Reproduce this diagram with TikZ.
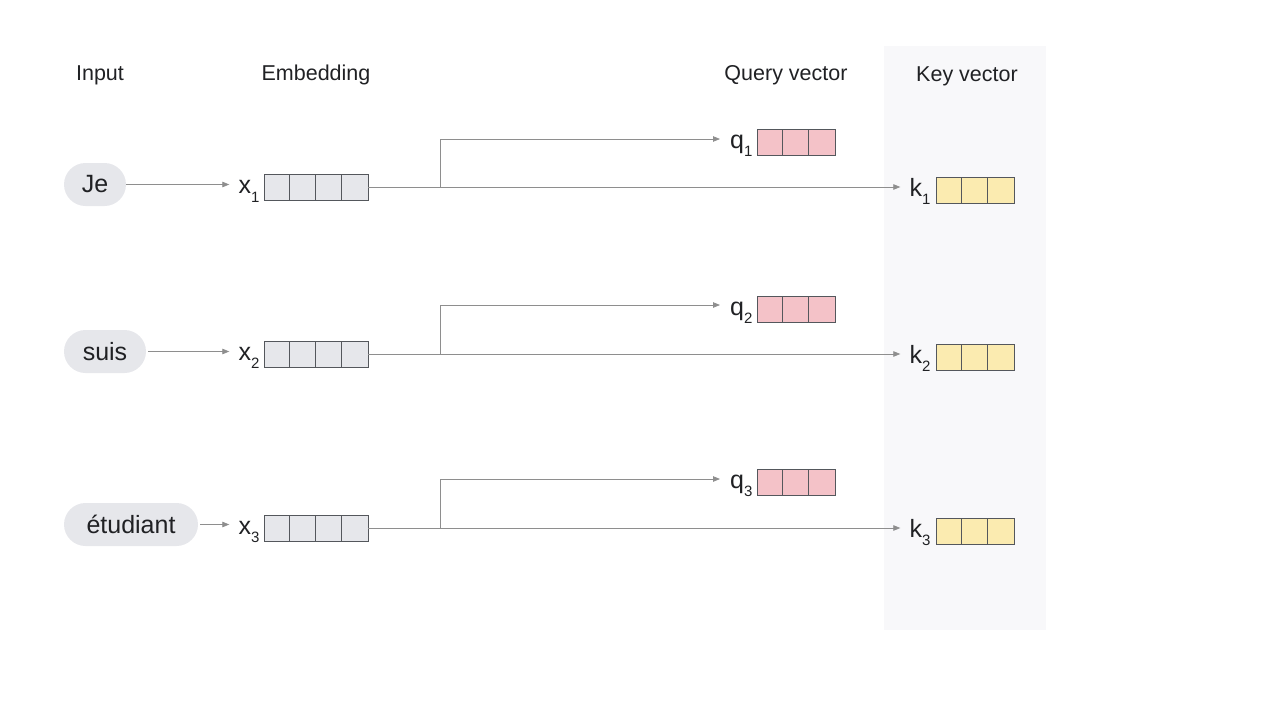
\documentclass[tikz,border=0pt]{standalone}
\usepackage{fontspec}
\setmainfont{Liberation Sans}
\usetikzlibrary{arrows.meta}
\definecolor{ink}{HTML}{202124}
\definecolor{pillgray}{HTML}{E6E7EB}
\definecolor{embfill}{HTML}{E6E7EB}
\definecolor{qfill}{HTML}{F4C2C8}
\definecolor{kfill}{HTML}{FBEBB0}
\definecolor{boxline}{HTML}{54575C}
\definecolor{arrowgray}{HTML}{8E8E8E}
\definecolor{panel}{HTML}{F8F8FA}
\newcommand\subidx[1]{\raisebox{-8.5pt}{\fontsize{15}{15}\selectfont #1}}
\begin{document}
\begin{tikzpicture}[x=1pt,y=-1pt,
  tok/.style={fill=pillgray, rounded corners=21.5pt, minimum height=43pt, inner sep=0pt, text=ink, font=\fontsize{25}{25}\selectfont},
  head/.style={text=ink, font=\fontsize{21.5}{21.5}\selectfont, anchor=base},
  vec/.style={draw=boxline, line width=0.9pt, minimum height=26pt, inner sep=0pt},
  embbox/.style={vec, fill=embfill, minimum width=104pt},
  qbox/.style={vec, fill=qfill, minimum width=78pt},
  kbox/.style={vec, fill=kfill, minimum width=78pt},
  lab/.style={text=ink, font=\fontsize{25}{25}\selectfont, anchor=base east, inner sep=0pt},
  conn/.style={draw=arrowgray, line width=0.8pt},
  arr/.style={conn, -{Triangle[length=7pt,width=5.5pt]}}
]
\useasboundingbox (0,0) rectangle (1280,720);
\fill[panel] (884,46) rectangle (1046,630);

% headers
\node[head] (hin) at (100,80) {Input};
\node[head] (hemb) at (316,80) {Embedding};
\node[head] (hq) at (786,80) {Query vector};
\node[head] (hk) at (967,81) {Key vector};

% tokens
\node[tok, minimum width=62pt] (t1) at (95,184.5) {Je};
\node[tok, minimum width=82pt] (t2) at (105,351.5) {suis};
\node[tok, minimum width=134pt] (t3) at (131,524.5) {étudiant};

% rows
\foreach \i/\ey/\qy/\ky in {1/187.5/142/190, 2/354/309/357, 3/528/482/531}{
  \node[embbox] (e\i) at (316,\ey) {};
  \foreach \c in {1,2,3}
    \draw[boxline, line width=0.9pt] ([xshift=26*\c pt]e\i.south west) -- ([xshift=26*\c pt]e\i.north west);
  \node[qbox] (q\i) at (796,\qy) {};
  \node[kbox] (k\i) at (975,\ky) {};
  \foreach \c in {1,2}{
    \draw[boxline, line width=0.9pt] ([xshift=26*\c pt]q\i.south west) -- ([xshift=26*\c pt]q\i.north west);
    \draw[boxline, line width=0.9pt] ([xshift=26*\c pt]k\i.south west) -- ([xshift=26*\c pt]k\i.north west);
  }
  \node[lab] (xl\i) at ([xshift=-4pt,yshift=-6pt]e\i.west) {x\subidx{\i}};
  \node[lab] (ql\i) at ([xshift=-4pt,yshift=-6pt]q\i.west) {q\subidx{\i}};
  \node[lab] (kl\i) at ([xshift=-5pt,yshift=-6pt]k\i.west) {k\subidx{\i}};
}

% token -> embedding
\draw[arr] (t1.east) -- ([xshift=-9pt]t1.east -| xl1.west);
\draw[arr] ([xshift=2pt]t2.east) -- ([xshift=-9pt]t2.east -| xl2.west);
\draw[arr] ([xshift=2pt]t3.east) -- ([xshift=-9pt]t3.east -| xl3.west);

% branches
\coordinate (b1) at (440,187);
\coordinate (b2) at (440,354);
\coordinate (b3) at (440,528);
\coordinate (qa1) at (720,139);
\coordinate (qa2) at (720,305);
\coordinate (qa3) at (720,479);
\foreach \i in {1,2,3}{
  \draw[conn] (e\i.east |- b\i) -- (b\i);
  \draw[arr] (b\i) |- (qa\i);
  \draw[arr] (b\i) -- ([xshift=-9pt]b\i -| kl\i.west);
}
\end{tikzpicture}
\end{document}
